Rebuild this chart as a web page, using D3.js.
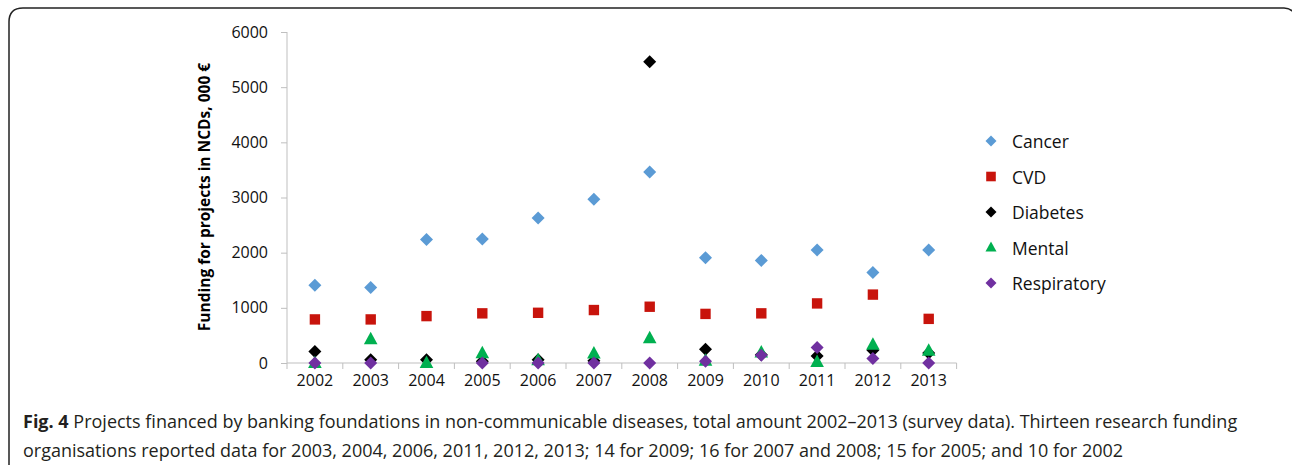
<!DOCTYPE html>
<html><head><meta charset="utf-8">
<script src="https://cdn.jsdelivr.net/npm/d3@7"></script>
<style>body{margin:0;background:#fff}svg{display:block}</style>
</head><body>
<svg id="c" width="1292" height="465"></svg>
<script>
const years = ["2002","2003","2004","2005","2006","2007","2008","2009","2010","2011","2012","2013"];
const cancer = [1410,1370,2240,2250,2630,2970,3460,1910,1860,2050,1640,2050];
const cvd = [790,790,850,900,910,960,1020,890,900,1080,1240,800];
const diabetes = [210,60,60,30,60,40,5460,250,150,125,230,180];
const mental = [0,430,0,175,50,170,450,40,190,20,330,220];
const respiratory = [0,0,null,0,0,0,0,30,140,280,80,0];
const yTicks = [0,1000,2000,3000,4000,5000,6000];
const seriesNames = ["Cancer","CVD","Diabetes","Mental","Respiratory"];
const seriesColors = ["#5b9bd5","#c8140c","#000000","#00b050","#7030a0"];
const seriesShapes = ["diamond","square","diamond","triangle","diamond"];
const seriesData = [cancer,cvd,diabetes,mental,respiratory];

const svg = d3.select("#c");
const font = "'Open Sans', 'Noto Sans', sans-serif";

// frame
svg.append("path")
  .attr("d","M9,470 L9,22 Q9,8 23,8 L1284,8 Q1292,8 1296,16")
  .attr("fill","none").attr("stroke","#222").attr("stroke-width",1.5);

const x = d3.scaleBand().domain(years).range([287,956.6]);
const y = d3.scaleLinear().domain([0,6000]).range([363,32]);

const axisColor = "#bfbfbf";
const gy = svg.append("g").attr("transform","translate(287,0)")
  .call(d3.axisLeft(y).tickValues(yTicks).tickSize(6).tickPadding(13).tickFormat(d3.format("d")));
const gx = svg.append("g").attr("transform","translate(0,363)")
  .call(d3.axisBottom(x).tickSize(0).tickPadding(12));
// x ticks at band boundaries
const bounds = years.map(d=>x(d)).concat([x.range()[1]]);
svg.append("g").selectAll("line").data(bounds).join("line")
  .attr("x1",d=>d).attr("x2",d=>d).attr("y1",363).attr("y2",369)
  .attr("stroke",axisColor).attr("stroke-width",1);

[gx,gy].forEach(g=>{
  g.selectAll("path,line").attr("stroke",axisColor);
  g.selectAll("text").attr("fill","#111").style("font-family",font).style("font-size","16px");
});
gy.select(".domain").attr("d","M0,363V32");
gx.select(".domain").attr("d","M287,0H956.6");

svg.append("text")
  .attr("transform","translate(210,197) rotate(-90)")
  .attr("text-anchor","middle")
  .style("font-family",font).style("font-size","15.5px").style("font-weight","bold")
  .text("Funding for projects in NCDs, 000 €");

function shapePath(s){
  if(s==="diamond") return "M0,-6.5L6.5,0L0,6.5L-6.5,0Z";
  if(s==="square") return "M-5.2,-5.2H5.2V5.2H-5.2Z";
  return "M0,-7.5L6.8,5L-6.8,5Z";
}

seriesData.forEach((arr,i)=>{
  svg.append("g").selectAll("path")
    .data(years.map((yr,j)=>({yr,v:arr[j]})).filter(d=>d.v!==null))
    .join("path")
    .attr("transform",d=>`translate(${x(d.yr)+x.bandwidth()/2},${y(d.v)})`)
    .attr("d",shapePath(seriesShapes[i]))
    .attr("fill",seriesColors[i]);
});

// legend
const leg = svg.append("g");
seriesNames.forEach((n,i)=>{
  const ly = 142 + i*35.5;
  leg.append("path").attr("transform",`translate(991,${ly-1})`)
    .attr("d", seriesShapes[i]==="triangle" ? "M0,-6L5.5,4L-5.5,4Z" : seriesShapes[i]==="square" ? "M-4.8,-4.8H4.8V4.8H-4.8Z" : "M0,-5.5L5.5,0L0,5.5L-5.5,0Z")
    .attr("fill",seriesColors[i]);
  leg.append("text").attr("x",1012).attr("y",ly).attr("dy","0.35em")
    .style("font-family",font).style("font-size","17.5px").attr("fill","#111").text(n);
});

// caption
const cap = svg.append("g").style("font-family",font).style("font-size","18px").attr("fill","#231f20");
const t1 = cap.append("text").attr("x",23).attr("y",428);
t1.append("tspan").style("font-weight","bold").text("Fig. 4");
t1.append("tspan").text(" Projects financed by banking foundations in non-communicable diseases, total amount 2002–2013 (survey data). Thirteen research funding");
cap.append("text").attr("x",23).attr("y",457)
  .text("organisations reported data for 2003, 2004, 2006, 2011, 2012, 2013; 14 for 2009; 16 for 2007 and 2008; 15 for 2005; and 10 for 2002");
</script>
</body></html>
